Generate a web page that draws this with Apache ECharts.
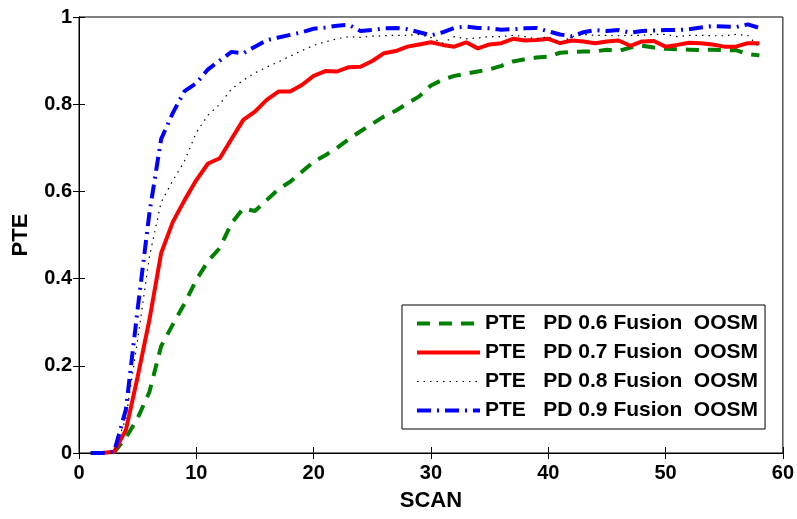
<!DOCTYPE html>
<html>
<head>
<meta charset="utf-8">
<script src="https://cdn.jsdelivr.net/npm/echarts@6/dist/echarts.min.js"></script>
<style>
html,body{margin:0;padding:0;background:#fff;}
#main{width:797px;height:519px;}
</style>
</head>
<body>
<div id="main"></div>
<script>
//扫描次数
var scans = [];
for (var s = 1; s <= 58; s++) { scans.push(s); }

//PD 0.6
var pte06 = [0,0,0.002,0.035,0.08,0.14,0.245,0.295,0.343,0.397,0.44,0.47,0.527,0.561,0.555,0.58,0.605,0.622,0.645,0.668,
    0.683,0.7,0.72,0.738,0.755,0.772,0.785,0.802,0.818,0.843,0.856,0.865,0.87,0.875,0.88,0.888,0.898,0.903,0.907,0.909,
    0.918,0.92,0.921,0.921,0.925,0.922,0.93,0.934,0.93,0.927,0.926,0.925,0.924,0.925,0.924,0.924,0.915,0.912];
//PD 0.7
var pte07 = [0,0,0.003,0.053,0.175,0.305,0.458,0.53,0.58,0.626,0.664,0.676,0.72,0.764,0.783,0.81,0.829,0.829,0.844,0.865,
    0.876,0.875,0.885,0.886,0.899,0.917,0.922,0.932,0.937,0.942,0.936,0.932,0.942,0.928,0.937,0.94,0.95,0.946,0.947,0.95,
    0.94,0.946,0.944,0.94,0.944,0.946,0.934,0.944,0.945,0.932,0.936,0.941,0.94,0.937,0.932,0.932,0.94,0.94];
//PD 0.8
var pte08 = [0,0,0.003,0.08,0.26,0.45,0.575,0.625,0.67,0.735,0.775,0.8,0.835,0.855,0.872,0.885,0.897,0.91,0.923,0.935,
    0.943,0.95,0.955,0.953,0.956,0.957,0.958,0.958,0.96,0.953,0.94,0.955,0.95,0.952,0.955,0.955,0.958,0.955,0.95,0.955,
    0.94,0.955,0.96,0.958,0.958,0.957,0.958,0.958,0.96,0.96,0.955,0.958,0.958,0.957,0.957,0.96,0.958,0.93];
//PD 0.9
var pte09 = [0,0,0.003,0.1,0.33,0.55,0.72,0.78,0.83,0.848,0.88,0.9,0.92,0.917,0.932,0.947,0.953,0.959,0.965,0.973,
    0.976,0.98,0.982,0.968,0.97,0.974,0.975,0.972,0.965,0.958,0.965,0.975,0.978,0.975,0.974,0.971,0.972,0.974,0.975,0.967,
    0.96,0.956,0.965,0.97,0.968,0.97,0.964,0.968,0.969,0.97,0.97,0.972,0.976,0.979,0.978,0.977,0.983,0.975];

var legendNames = ['PTE   PD 0.6 Fusion  OOSM','PTE   PD 0.7 Fusion  OOSM','PTE   PD 0.8 Fusion  OOSM','PTE   PD 0.9 Fusion  OOSM'];
var lineWidths = [4, 4, 1.2, 4];

function pairs(ys){
    var out = [];
    for (var i = 0; i < ys.length; i++) { out.push([scans[i], ys[i]]); }
    return out;
}

function createLine(name, ys, color, width, type){
    return {
        name: name,
        type: 'line',
        data: pairs(ys),
        symbol: 'none',
        smooth: false,
        xAxisIndex: 0,
        yAxisIndex: 0,
        lineStyle: { color: color, width: width, type: type },
        itemStyle: { color: color }
    };
}

//图例项，线宽跟曲线一致
var legendData = [];
for (var k = 0; k < legendNames.length; k++) {
    legendData.push({ name: legendNames[k], lineStyle: { width: lineWidths[k] } });
}

var fontBase = { fontFamily: 'Liberation Sans', fontWeight: 'bold', color: '#000' };

var myChart = echarts.init(document.getElementById('main'), null, { renderer: 'canvas' });
myChart.setOption({
    animation: false,
    backgroundColor: '#fff',
    grid: {
        left: 79, right: 10, top: 17, bottom: 66,
        show: true, borderColor: '#000', borderWidth: 1, backgroundColor: 'transparent'
    },
    legend: {
        orient: 'vertical',
        left: 402,
        top: 305,
        padding: [8, 7, 8, 13],
        itemGap: 8,
        itemWidth: 63,
        itemHeight: 21,
        backgroundColor: '#fff',
        borderColor: '#000',
        borderWidth: 1,
        borderRadius: 0,
        itemStyle: { opacity: 0 },
        data: legendData,
        textStyle: { fontFamily: 'Liberation Sans', fontWeight: 'bold', fontSize: 21, color: '#000' }
    },
    xAxis: [{
        type: 'value', min: 0, max: 60, interval: 10,
        name: 'SCAN', nameLocation: 'middle', nameGap: 37,
        nameTextStyle: Object.assign({ fontSize: 22 }, fontBase),
        axisLine: { show: true, lineStyle: { color: '#000', width: 1 } },
        axisTick: { inside: true, length: 6, lineStyle: { color: '#000' } },
        axisLabel: Object.assign({ fontSize: 20, margin: 10 }, fontBase),
        splitLine: { show: false }
    }, {
        type: 'value', min: 0, max: 60, interval: 10, position: 'top',
        axisLine: { show: true, lineStyle: { color: '#000' } },
        axisTick: { inside: true, length: 6, lineStyle: { color: '#000' } },
        axisLabel: { show: false },
        splitLine: { show: false }
    }],
    yAxis: [{
        type: 'value', min: 0, max: 1, interval: 0.2,
        name: 'PTE', nameLocation: 'middle', nameGap: 47, nameRotate: 90,
        nameTextStyle: Object.assign({ fontSize: 22 }, fontBase),
        axisLine: { show: true, lineStyle: { color: '#000', width: 1 } },
        axisTick: { inside: true, length: 6, lineStyle: { color: '#000' } },
        axisLabel: Object.assign({ fontSize: 20, margin: 7,
            formatter: function (v) { return v === 0 || v === 1 ? String(v) : v.toFixed(1); } }, fontBase),
        splitLine: { show: false }
    }, {
        type: 'value', min: 0, max: 1, interval: 0.2, position: 'right',
        axisLine: { show: true, lineStyle: { color: '#000' } },
        axisTick: { inside: true, length: 6, lineStyle: { color: '#000' } },
        axisLabel: { show: false },
        splitLine: { show: false }
    }],
    series: [
        createLine(legendNames[0], pte06, '#008000', lineWidths[0], [13, 9]),
        createLine(legendNames[1], pte07, '#ff0000', lineWidths[1], 'solid'),
        createLine(legendNames[2], pte08, '#000000', lineWidths[2], [1.5, 5]),
        createLine(legendNames[3], pte09, '#0000ff', lineWidths[3], [14, 6, 2, 6])
    ]
});
</script>
</body>
</html>
